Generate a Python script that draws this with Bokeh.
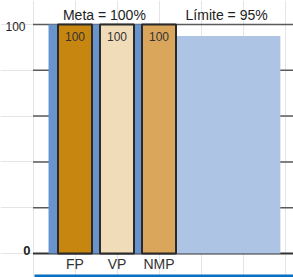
from bokeh.plotting import figure
from bokeh.models import Range1d, ColumnDataSource
from bokeh.core.properties import value
from bokeh.embed import file_html
from bokeh.resources import INLINE

# ---- data ----
categories = ["FP", "VP", "NMP"]
values = [100, 100, 100]
bar_colors = ["#c7860f", "#f0dcb9", "#d9a65b"]
meta = 100
limite = 95
meta_label = "Meta = 100%"
limite_label = "Límite = 95%"
y_ticks = [0, 20, 40, 60, 80, 100]
y_tick_labels = {0: "0", 100: "100"}

# ---- layout ----
W, H = 293, 277
x_pos = [1, 2, 3]
bar_w = 0.81
meta_x0, meta_x1 = 0.37, 3.41
lim_x0, lim_x1 = 3.41, 5.89
x_start = 1 - 74.5 / 42.0
x_end = x_start + W / 42.0
y_top = 100 + 24 / 2.29
y_bot = -(H - 253) / 2.29
FONT = "Liberation Sans"

p = figure(width=W, height=H, output_backend="svg", toolbar_location=None,
           x_range=Range1d(x_start, x_end), y_range=Range1d(y_bot, y_top),
           x_axis_location=None, y_axis_location=None, min_border=0)
p.outline_line_color = None
p.background_fill_color = "white"
p.border_fill_color = "white"

# gridlines
grid_y = [t for t in y_ticks if t != 0]
p.segment(x0=[0] * len(grid_y), x1=[x_end] * len(grid_y), y0=grid_y, y1=grid_y,
          line_color="#5a5a5a", line_width=1.5)
p.segment(x0=[0], x1=[x_end], y0=[0], y1=[0], line_color="#333333", line_width=2)

# background reference bars
p.quad(left=[meta_x0], right=[meta_x1], bottom=[0], top=[meta],
       fill_color="#6993cc", line_color=None)
p.quad(left=[lim_x0], right=[lim_x1], bottom=[0], top=[limite],
       fill_color="#aec4e4", line_color=None)

# main bars
src = ColumnDataSource(dict(x=x_pos, top=values, color=bar_colors,
                            lab=[str(v) for v in values],
                            ly=[v - 5.2 for v in values], cat=categories,
                            cy=[-4.4] * len(categories)))
p.vbar(x="x", top="top", bottom=0, width=bar_w, fill_color="color",
       line_color="#2a2a2a", line_width=2, source=src)
p.text(x="x", y="ly", text="lab", source=src, text_align="center",
       text_baseline="middle", text_font=value(FONT), text_font_size="12px",
       text_color="#333333")

# category labels
p.text(x="x", y="cy", text="cat", source=src, text_align="center",
       text_baseline="middle", text_font=value(FONT), text_font_size="14px",
       text_color="#333333")

# y labels
p.text(x=[-0.179], y=[99.3], text=[y_tick_labels[100]], text_align="right",
       text_baseline="middle", text_font=value(FONT), text_font_size="12px",
       text_color="#222222")
p.text(x=[-0.06], y=[1.3], text=[y_tick_labels[0]], text_align="right",
       text_baseline="middle", text_font=value(FONT), text_font_size="13px",
       text_font_style="bold", text_color="#222222")

# titles
p.text(x=[1.70, 4.61], y=[104, 104], text=[meta_label, limite_label],
       text_align="center", text_baseline="middle", text_font=value(FONT),
       text_font_size="14px", text_color="#222222")

# bottom blue rule
p.segment(x0=[0.036], x1=[x_end], y0=[-9.8], y1=[-9.8],
          line_color="#0b6fc1", line_width=3)

open("out.html", "w").write(file_html(p, INLINE))
